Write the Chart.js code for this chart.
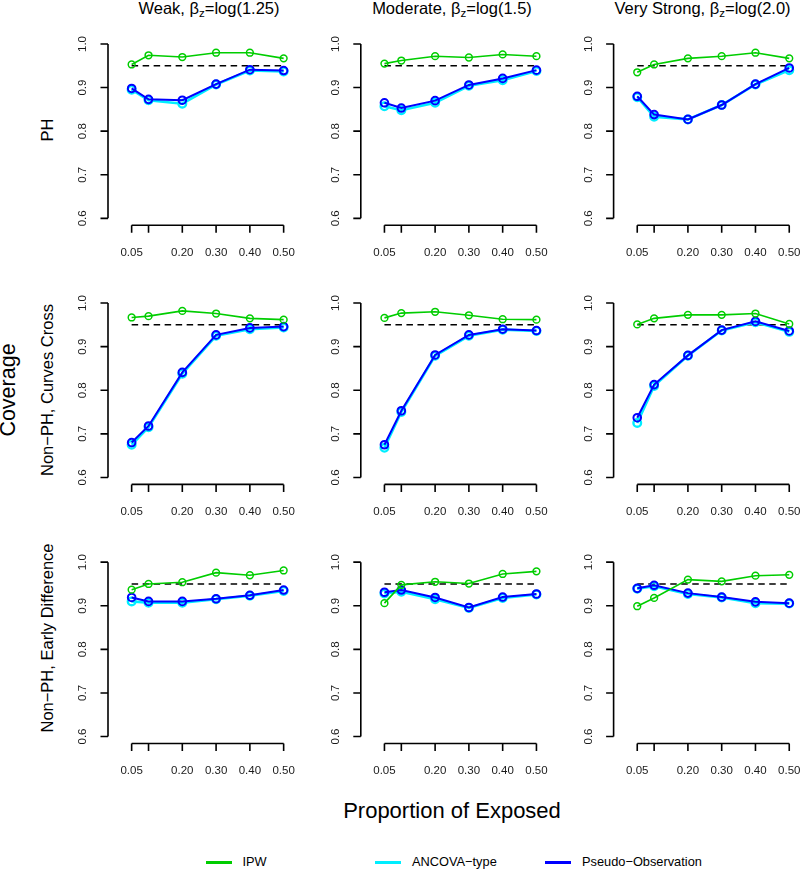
<!DOCTYPE html>
<html>
<head>
<meta charset="utf-8">
<title>Coverage by proportion of exposed</title>
<script src="https://cdn.jsdelivr.net/npm/chart.js@4.4.1/dist/chart.umd.min.js"></script>
<style>
  body { margin: 0; background: #fff; }
  #fig { position: relative; width: 800px; height: 876px; overflow: hidden;
         font-family: "Liberation Sans", Arial, Helvetica, sans-serif; color: #000; }
  #fig canvas { position: absolute; }
  .lbl { position: absolute; white-space: nowrap; }
  .rot { transform: translate(-50%, -50%) rotate(-90deg); }
  .lbl sub { font-size: 0.7em; vertical-align: -0.3em; line-height: 0; }
  .leg-line { position: absolute; height: 3px; }
</style>
</head>
<body>
<div id="fig"></div>

<script>
// ── Data ───────────────────────────────────────────────────────
const xValues    = [0.05, 0.10, 0.20, 0.30, 0.40, 0.50];
const xTicks     = [0.05, 0.10, 0.20, 0.30, 0.40, 0.50];
const yTicks     = [0.6, 0.7, 0.8, 0.9, 1.0];
const refLevel   = 0.95;

const strengths  = ["Weak", "Moderate", "Very Strong"];
const betaVals   = ["1.25", "1.5", "2.0"];
const scenarios  = ["PH", "Non\u2212PH, Curves Cross", "Non\u2212PH, Early Difference"];
const methods    = ["IPW", "ANCOVA\u2212type", "Pseudo\u2212Observation"];

// baris: Weak, Moderate, Very Strong
const ipwPH      = [[0.953, 0.974, 0.970, 0.980, 0.980, 0.967],
                    [0.955, 0.962, 0.972, 0.969, 0.976, 0.972],
                    [0.935, 0.953, 0.967, 0.972, 0.980, 0.967]];
const ancovaPH   = [[0.895, 0.871, 0.863, 0.907, 0.939, 0.937],
                    [0.857, 0.848, 0.865, 0.904, 0.917, 0.938],
                    [0.878, 0.833, 0.827, 0.860, 0.907, 0.940]];
const pseudoPH   = [[0.898, 0.873, 0.871, 0.908, 0.941, 0.939],
                    [0.865, 0.853, 0.870, 0.906, 0.921, 0.940],
                    [0.880, 0.838, 0.827, 0.860, 0.908, 0.945]];

const ipwCross    = [[0.967, 0.970, 0.982, 0.976, 0.965, 0.962],
                     [0.966, 0.977, 0.980, 0.972, 0.963, 0.962],
                     [0.951, 0.965, 0.973, 0.973, 0.976, 0.952]];
const ancovaCross = [[0.675, 0.715, 0.838, 0.925, 0.940, 0.944],
                     [0.668, 0.750, 0.879, 0.925, 0.939, 0.936],
                     [0.725, 0.810, 0.879, 0.937, 0.956, 0.934]];
const pseudoCross = [[0.680, 0.718, 0.841, 0.927, 0.943, 0.946],
                     [0.675, 0.753, 0.881, 0.927, 0.940, 0.937],
                     [0.737, 0.813, 0.880, 0.938, 0.958, 0.936]];

const ipwEarly    = [[0.937, 0.950, 0.954, 0.976, 0.970, 0.981],
                     [0.906, 0.948, 0.955, 0.951, 0.973, 0.979],
                     [0.899, 0.918, 0.960, 0.956, 0.969, 0.971]];
const ancovaEarly = [[0.910, 0.907, 0.907, 0.915, 0.923, 0.934],
                     [0.928, 0.932, 0.915, 0.895, 0.918, 0.926],
                     [0.939, 0.945, 0.927, 0.919, 0.906, 0.905]];
const pseudoEarly = [[0.919, 0.910, 0.910, 0.916, 0.924, 0.936],
                     [0.931, 0.936, 0.919, 0.896, 0.920, 0.927],
                     [0.940, 0.947, 0.929, 0.920, 0.909, 0.906]];

const rows = [
  [ipwPH,    ancovaPH,    pseudoPH],
  [ipwCross, ancovaCross, pseudoCross],
  [ipwEarly, ancovaEarly, pseudoEarly],
];

// ── Gaya ───────────────────────────────────────────────────────
const COLORS = ["#00CD00", "#00EEFF", "#0000FF"];
const FONT   = "'Liberation Sans', Arial, Helvetica, sans-serif";
const TICK   = 7.5;

// geometri plot region (ala R: xlim 0..0.5, ylim 0.6..1.0, +4%)
const PLOT_W = 182.4, PLOT_H = 188.3;
const plotLeft = c => 108 + c * 252.8;
const plotTop  = r => 37 + r * 259.1;

const fig = document.getElementById("fig");

// ── Axis gaya R base graphics ──────────────────────────────────
const rAxes = {
  id: "rAxes",
  afterDraw(chart) {
    const { ctx, chartArea: a, scales: { x, y } } = chart;
    ctx.save();
    ctx.strokeStyle = "#000";
    ctx.lineWidth   = 1.6;
    ctx.fillStyle   = "#1a1a1a";
    ctx.font        = "11.5px " + FONT;
    ctx.textAlign   = "center";
    ctx.textBaseline = "middle";

    // sumbu x
    const yb = a.bottom;
    const x0 = x.getPixelForValue(xTicks[0]), x1 = x.getPixelForValue(xTicks[xTicks.length - 1]);
    ctx.beginPath();
    ctx.moveTo(x0, yb); ctx.lineTo(x1, yb);
    xTicks.forEach(v => { const p = x.getPixelForValue(v); ctx.moveTo(p, yb); ctx.lineTo(p, yb + TICK); });
    ctx.stroke();
    let lastRight = -Infinity;
    xTicks.forEach(v => {
      const p = x.getPixelForValue(v), s = v.toFixed(2), w = ctx.measureText(s).width;
      if (p - w / 2 < lastRight + 2) return;   // label bertumpuk dilewati, seperti R
      ctx.fillText(s, p, yb + 27.5);
      lastRight = p + w / 2;
    });

    // sumbu y
    const xl = a.left;
    ctx.beginPath();
    ctx.moveTo(xl, y.getPixelForValue(yTicks[0])); ctx.lineTo(xl, y.getPixelForValue(yTicks[yTicks.length - 1]));
    yTicks.forEach(v => { const p = y.getPixelForValue(v); ctx.moveTo(xl, p); ctx.lineTo(xl - TICK, p); });
    ctx.stroke();
    yTicks.forEach(v => {
      const p = y.getPixelForValue(v);
      ctx.save();
      ctx.translate(xl - 25, p);
      ctx.rotate(-Math.PI / 2);
      ctx.fillText(v.toFixed(1), 0, 0);
      ctx.restore();
    });
    ctx.restore();
  },
};

// ── Dataset builder ────────────────────────────────────────────
const pts = vals => xValues.map((x, i) => ({ x, y: vals[i] }));

function series(vals, color, bw, r, pbw) {
  return {
    data: pts(vals), borderColor: color, borderWidth: bw, tension: 0,
    pointRadius: r, pointBorderWidth: pbw, pointBorderColor: color,
    pointBackgroundColor: "rgba(0,0,0,0)", fill: false,
  };
}

function makePanel(r, c) {
  const [ipw, ancova, pseudo] = rows[r];
  const pl = plotLeft(c), pt = plotTop(r);
  const cl = Math.floor(pl) - 50, ct = Math.floor(pt) - 10;
  const cw = 250, ch = 250;

  const cv = document.createElement("canvas");
  cv.width = cw; cv.height = ch;
  cv.style.left = cl + "px"; cv.style.top = ct + "px";
  fig.appendChild(cv);

  new Chart(cv, {
    type: "line",
    data: {
      datasets: [
        // index 0 digambar paling atas
        series(ipw[c],    COLORS[0], 1.6, 3.4, 1.5),
        series(pseudo[c], COLORS[2], 2,   3.8, 2),
        series(ancova[c], COLORS[1], 2.6, 3.8, 2.4),
        { data: [{ x: xValues[0], y: refLevel }, { x: xValues[xValues.length - 1], y: refLevel }],
          borderColor: "#000", borderWidth: 1.5, borderDash: [6.5, 4.5], pointRadius: 0, fill: false },
      ],
    },
    options: {
      responsive: false, animation: false, events: [],
      layout: { padding: { left: pl - cl, top: pt - ct, right: cw - (pl - cl) - PLOT_W, bottom: ch - (pt - ct) - PLOT_H } },
      plugins: { legend: { display: false }, tooltip: { enabled: false } },
      scales: {
        x: { type: "linear", min: -0.02, max: 0.52, display: false },
        y: { type: "linear", min: 0.584, max: 1.016, display: false },
      },
    },
    plugins: [rAxes],
  });
}

// ── Teks ───────────────────────────────────────────────────────
function text(html, x, y, size, opts = {}) {
  const el = document.createElement("div");
  el.className = "lbl" + (opts.rot ? " rot" : "");
  el.style.fontSize = size + "px";
  el.style.lineHeight = size + "px";
  el.innerHTML = html;
  if (opts.rot) {
    el.style.left = x + "px"; el.style.top = y + "px";
  } else {
    // x = tengah, y = baseline
    el.style.left = x + "px";
    el.style.top  = (y - 0.8465 * size) + "px";
    el.style.transform = opts.left ? "none" : "translateX(-50%)";
  }
  fig.appendChild(el);
  return el;
}

const titleX   = [209, 452, 702.5];
const rowLblY  = [130, 390, 638];

for (let r = 0; r < 3; r++) for (let c = 0; c < 3; c++) makePanel(r, c);

strengths.forEach((s, c) => text(`${s}, \u03B2<sub>z</sub>=log(${betaVals[c]})`, titleX[c], 13.5, 16.5));
scenarios.forEach((s, r) => text(s, 46.5, rowLblY[r], 16.5, { rot: true }));
text("Coverage", 8.5, 390, 21.5, { rot: true });
text("Proportion of Exposed", 452, 819, 22);

// ── Legend ─────────────────────────────────────────────────────
const legX = [205.5, 375, 545], legY = 862;
methods.forEach((m, i) => {
  const ln = document.createElement("div");
  ln.className = "leg-line";
  ln.style.cssText += `left:${legX[i]}px;top:${legY - 1.5}px;width:26px;background:${COLORS[i]}`;
  fig.appendChild(ln);
  text(m, legX[i] + 37, legY + 4.5, 12.8, { left: true });
});
</script>
</body>
</html>
